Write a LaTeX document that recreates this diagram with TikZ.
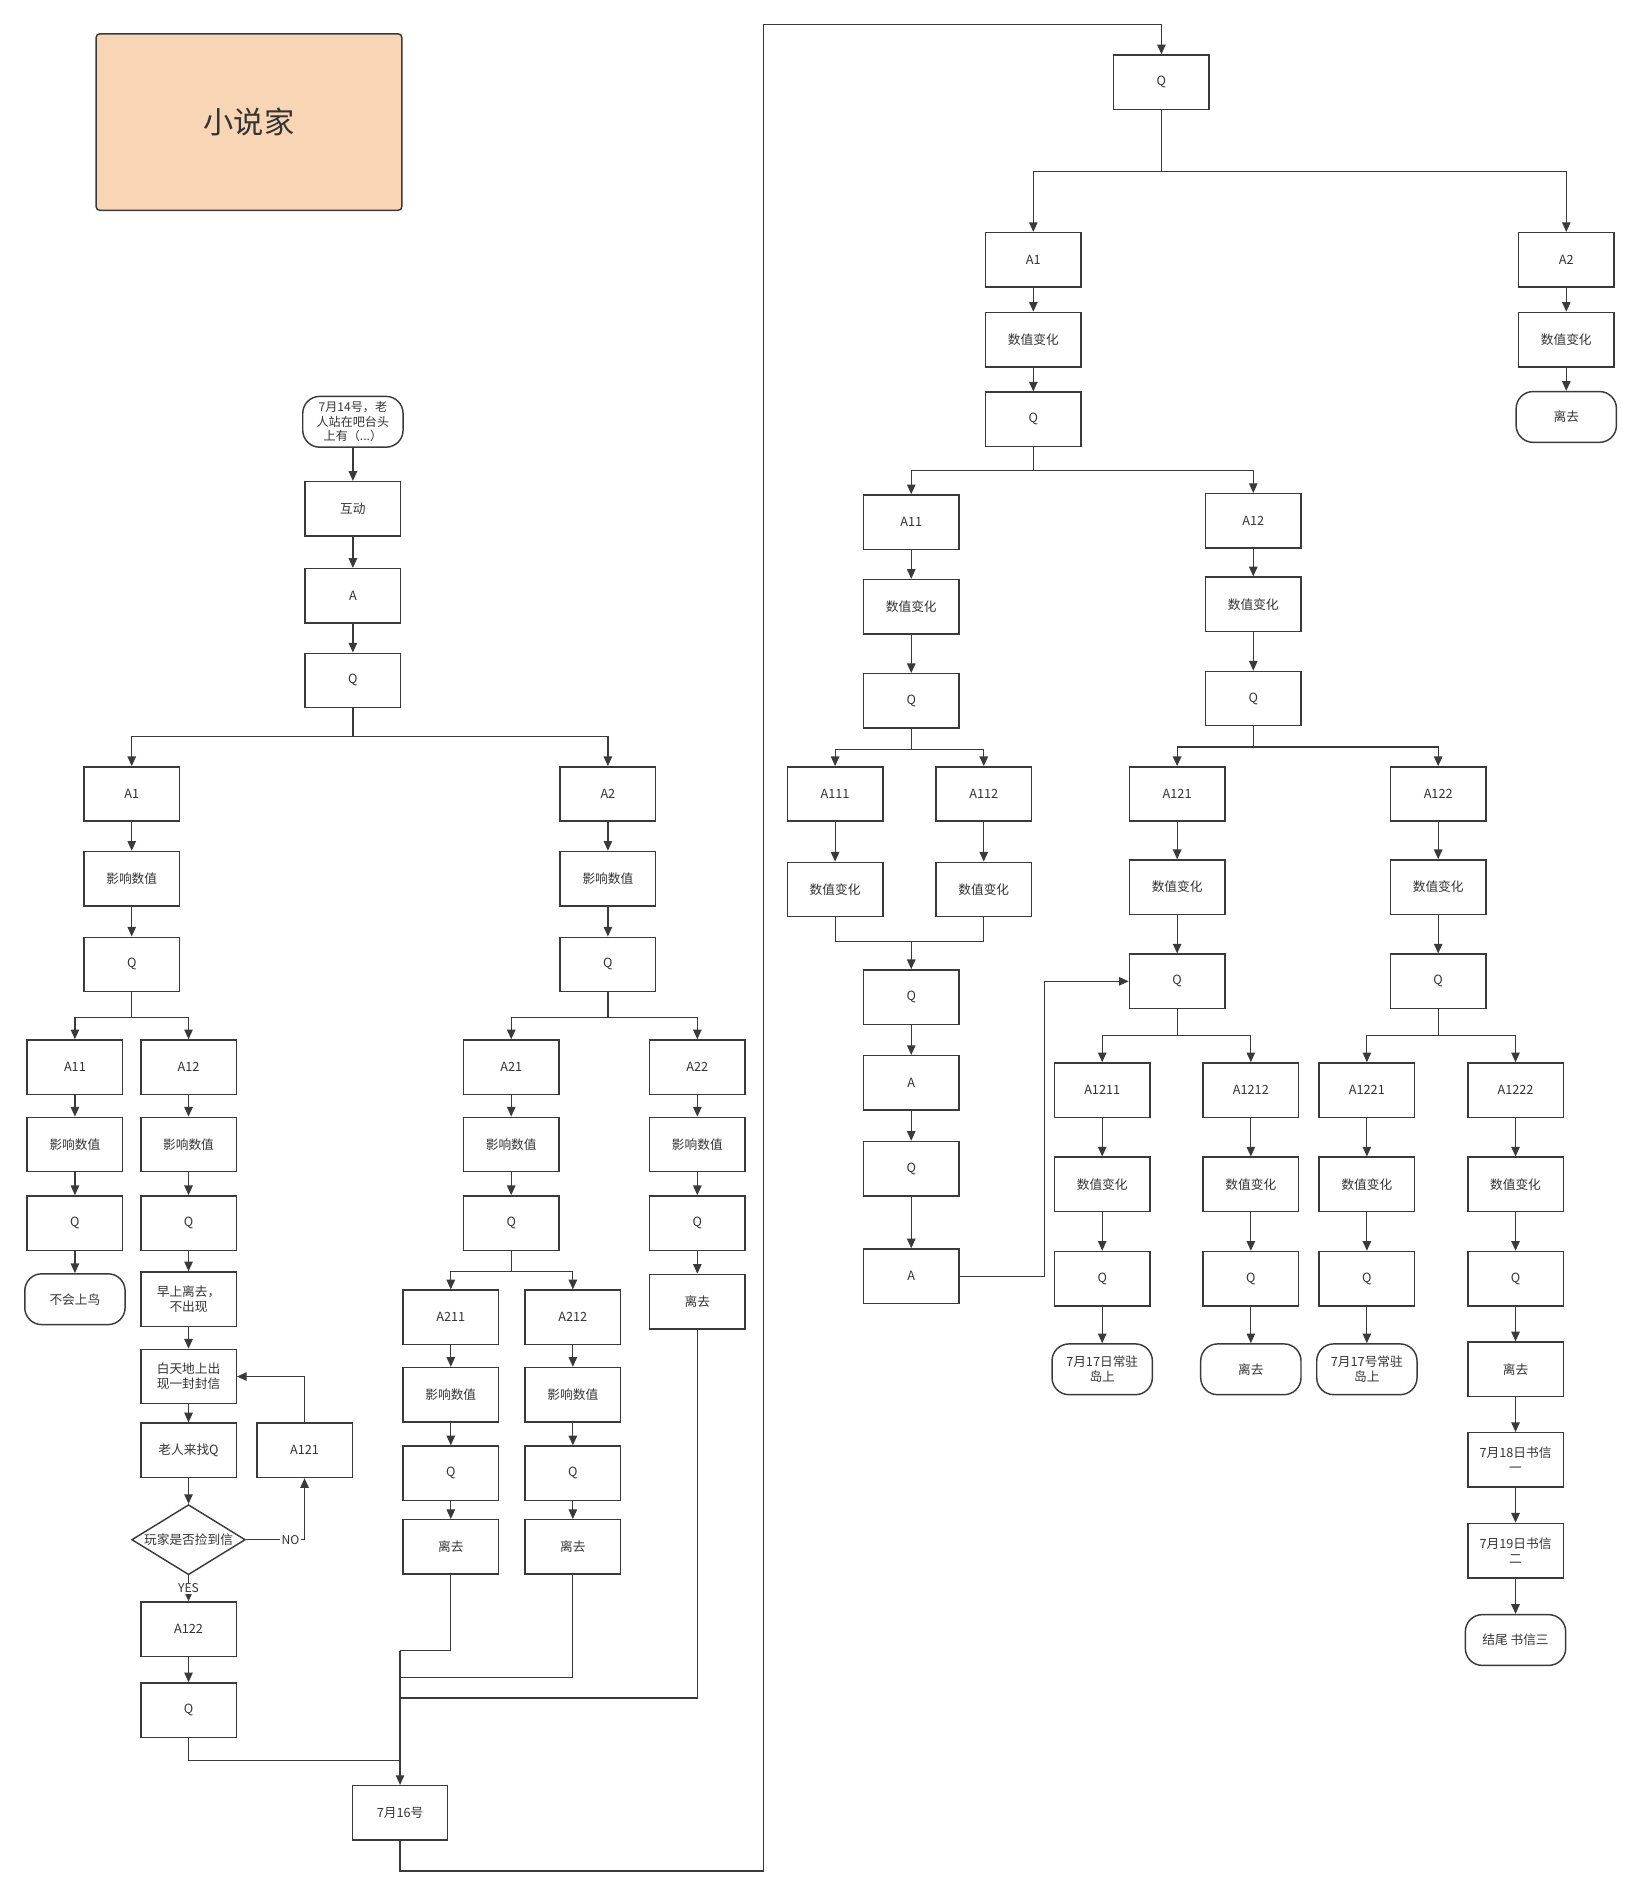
\documentclass[tikz,border=0pt]{standalone}
\usepackage{fontspec}
\setmainfont{Noto Sans CJK SC}
\usetikzlibrary{arrows.meta,shapes.geometric}
\definecolor{linec}{HTML}{3A3A3A}
\definecolor{txtc}{HTML}{333333}
\definecolor{titlefill}{HTML}{F8D5B5}
\tikzset{
  blk/.style={draw=linec, line width=1.2pt, minimum width=79pt, minimum height=45pt, inner sep=1pt, align=center, text=txtc, font=\fontsize{10.5}{12.5}\selectfont},
  term/.style={blk, rounded corners=14pt, minimum width=83pt, minimum height=42pt},
  dia/.style={blk, diamond, minimum width=94pt, minimum height=58pt, inner sep=0pt},
  lab/.style={fill=white, inner sep=1pt, text=txtc, font=\fontsize{10}{12}\selectfont}
}
\begin{document}
\begin{tikzpicture}[x=1pt, y=-1pt, line width=1pt, color=linec, >={Triangle[length=8pt,width=7pt]}]
\useasboundingbox (0,0) rectangle (1357,1568);
\node[draw, fill=titlefill, rounded corners=3pt, line width=1.2pt, minimum width=253pt, minimum height=146pt, text=txtc, font=\fontsize{25}{30}\selectfont] (title) at (206,101) {小说家};
\node[term, font=\fontsize{10}{12}\selectfont] (s) at (292,349) {7月14号，老\\人站在吧台头\\上有（...）};
\node[blk] (hd) at (292,421) {互动};
\node[blk] (a) at (292,493) {A};
\node[blk] (q) at (292,563) {Q};
\node[blk] (a1) at (109,657) {A1};
\node[blk] (a1v) at (109,727) {影响数值};
\node[blk] (a1q) at (109,798) {Q};
\node[blk] (a11) at (62,883) {A11};
\node[blk] (a11v) at (62,947) {影响数值};
\node[blk] (a11q) at (62,1012) {Q};
\node[term] (a11e) at (62,1075) {不会上鸟};
\node[blk] (a12) at (156,883) {A12};
\node[blk] (a12v) at (156,947) {影响数值};
\node[blk] (a12q) at (156,1012) {Q};
\node[blk] (a12m) at (156,1075) {早上离去，\\不出现};
\node[blk] (a12d) at (156,1139) {白天地上出\\现一封封信};
\node[blk] (a12o) at (156,1200) {老人来找Q};
\node[blk] (a121) at (252,1200) {A121};
\node[dia] (chk) at (156,1274) {\makebox[0pt]{玩家是否捡到信}};
\node[blk] (a122) at (156,1348) {A122};
\node[blk] (a122q) at (156,1415) {Q};
\node[blk] (a2) at (503,657) {A2};
\node[blk] (a2v) at (503,727) {影响数值};
\node[blk] (a2q) at (503,798) {Q};
\node[blk] (a21) at (423,883) {A21};
\node[blk] (a21v) at (423,947) {影响数值};
\node[blk] (a21q) at (423,1012) {Q};
\node[blk] (a22) at (577,883) {A22};
\node[blk] (a22v) at (577,947) {影响数值};
\node[blk] (a22q) at (577,1012) {Q};
\node[blk] (a22e) at (577,1077) {离去};
\node[blk] (a211) at (373,1090) {A211};
\node[blk] (a211v) at (373,1154) {影响数值};
\node[blk] (a211q) at (373,1219) {Q};
\node[blk] (a211e) at (373,1280) {离去};
\node[blk] (a212) at (474,1090) {A212};
\node[blk] (a212v) at (474,1154) {影响数值};
\node[blk] (a212q) at (474,1219) {Q};
\node[blk] (a212e) at (474,1280) {离去};
\node[blk] (d16) at (331,1500) {7月16号};
\node[blk] (rq) at (961,68) {Q};
\node[blk] (r1) at (855,215) {A1};
\node[blk] (r1v) at (855,281) {数值变化};
\node[blk] (r1q) at (855,347) {Q};
\node[blk] (r2) at (1296,215) {A2};
\node[blk] (r2v) at (1296,281) {数值变化};
\node[term] (r2e) at (1296,345) {离去};
\node[blk] (r11) at (754,432) {A11};
\node[blk] (r11v) at (754,502) {数值变化};
\node[blk] (r11q) at (754,580) {Q};
\node[blk] (r111) at (691,657) {A111};
\node[blk] (r111v) at (691,736) {数值变化};
\node[blk] (r112) at (814,657) {A112};
\node[blk] (r112v) at (814,736) {数值变化};
\node[blk] (r11q2) at (754,825) {Q};
\node[blk] (r11a) at (754,896) {A};
\node[blk] (r11q3) at (754,967) {Q};
\node[blk] (r11a2) at (754,1056) {A};
\node[blk] (r12) at (1037,431) {A12};
\node[blk] (r12v) at (1037,500) {数值变化};
\node[blk] (r12q) at (1037,578) {Q};
\node[blk] (r121) at (974,657) {A121};
\node[blk] (r121v) at (974,734) {数值变化};
\node[blk] (r121q) at (974,812) {Q};
\node[blk] (r122) at (1190,657) {A122};
\node[blk] (r122v) at (1190,734) {数值变化};
\node[blk] (r122q) at (1190,812) {Q};
\node[blk] (r1211) at (912,902) {A1211};
\node[blk] (r1211v) at (912,980) {数值变化};
\node[blk] (r1211q) at (912,1058) {Q};
\node[term] (r1211e) at (912,1133) {7月17日常驻\\岛上};
\node[blk] (r1212) at (1035,902) {A1212};
\node[blk] (r1212v) at (1035,980) {数值变化};
\node[blk] (r1212q) at (1035,1058) {Q};
\node[term] (r1212e) at (1035,1133) {离去};
\node[blk] (r1221) at (1131,902) {A1221};
\node[blk] (r1221v) at (1131,980) {数值变化};
\node[blk] (r1221q) at (1131,1058) {Q};
\node[term] (r1221e) at (1131,1133) {7月17号常驻\\岛上};
\node[blk] (r1222) at (1254,902) {A1222};
\node[blk] (r1222v) at (1254,980) {数值变化};
\node[blk] (r1222q) at (1254,1058) {Q};
\node[blk] (r1222e) at (1254,1133) {离去};
\node[blk] (r18) at (1254,1208) {7月18日书信\\一};
\node[blk] (r19) at (1254,1283) {7月19日书信\\二};
\node[term] (rend) at (1254,1357) {结尾 书信三};
\coordinate (j1) at (331,1366);
\coordinate (j2) at (331,1388);
\coordinate (j3) at (331,1405);
\coordinate (j4) at (331,1457);
\coordinate (up) at (632,20);
\coordinate (r11m) at (754,779);
\draw [->] (s) -- (hd);
\draw [->] (hd) -- (a);
\draw [->] (a) -- (q);
\draw (q.south) -- ++(0,23) coordinate (qb);
\draw [->] (qb) -| (a1);
\draw [->] (qb) -| (a2);
\draw [->] (a1) -- (a1v);
\draw [->] (a1v) -- (a1q);
\draw (a1q.south) -- ++(0,21) coordinate (a1b);
\draw [->] (a1b) -| (a11);
\draw [->] (a1b) -| (a12);
\draw [->] (a11) -- (a11v);
\draw [->] (a11v) -- (a11q);
\draw [->] (a11q) -- (a11e);
\draw [->] (a12) -- (a12v);
\draw [->] (a12v) -- (a12q);
\draw [->] (a12q) -- (a12m);
\draw [->] (a12m) -- (a12d);
\draw [->] (a12d) -- (a12o);
\draw [->] (a12o) -- (chk);
\draw [->] (chk.east) -| node[lab, pos=0.38] {NO} (a121);
\draw [->] (a121) |- (a12d);
\draw [->] (chk) -- node[lab] {YES} (a122);
\draw [->] (a122) -- (a122q);
\draw (a122q) |- (j4);
\draw [->] (a2) -- (a2v);
\draw [->] (a2v) -- (a2q);
\draw (a2q.south) -- ++(0,21) coordinate (a2b);
\draw [->] (a2b) -| (a21);
\draw [->] (a2b) -| (a22);
\draw [->] (a21) -- (a21v);
\draw [->] (a21v) -- (a21q);
\draw (a21q.south) -- ++(0,17) coordinate (a21b);
\draw [->] (a21b) -| (a211);
\draw [->] (a21b) -| (a212);
\draw [->] (a211) -- (a211v);
\draw [->] (a211v) -- (a211q);
\draw [->] (a211q) -- (a211e);
\draw [->] (a212) -- (a212v);
\draw [->] (a212v) -- (a212q);
\draw [->] (a212q) -- (a212e);
\draw [->] (a22) -- (a22v);
\draw [->] (a22v) -- (a22q);
\draw [->] (a22q) -- (a22e);
\draw (a211e) |- (j1);
\draw (a212e) |- (j2);
\draw (a22e) |- (j3);
\draw [->] (j1) -- (d16);
\draw [->] (d16.south) -- ++(0,25) -| (up) -| (rq);
\draw (rq.south) -- ++(0,51) coordinate (rqb);
\draw [->] (rqb) -| (r1);
\draw [->] (rqb) -| (r2);
\draw [->] (r1) -- (r1v);
\draw [->] (r1v) -- (r1q);
\draw [->] (r2) -- (r2v);
\draw [->] (r2v) -- (r2e);
\draw (r1q.south) -- ++(0,19) coordinate (r1b);
\draw [->] (r1b) -| (r11);
\draw [->] (r1b) -| (r12);
\draw [->] (r11) -- (r11v);
\draw [->] (r11v) -- (r11q);
\draw (r11q.south) -- ++(0,17) coordinate (r11b);
\draw [->] (r11b) -| (r111);
\draw [->] (r11b) -| (r112);
\draw [->] (r111) -- (r111v);
\draw [->] (r112) -- (r112v);
\draw (r111v) |- (r11m) -| (r112v);
\draw [->] (r11m) -- (r11q2);
\draw [->] (r11q2) -- (r11a);
\draw [->] (r11a) -- (r11q3);
\draw [->] (r11q3) -- (r11a2);
\draw [->] (r11a2.east) -- ++(70,0) |- (r121q);
\draw [->] (r12) -- (r12v);
\draw [->] (r12v) -- (r12q);
\draw (r12q.south) -- ++(0,17) coordinate (r12b);
\draw [->] (r12b) -| (r121);
\draw [->] (r12b) -| (r122);
\draw [->] (r121) -- (r121v);
\draw [->] (r121v) -- (r121q);
\draw [->] (r122) -- (r122v);
\draw [->] (r122v) -- (r122q);
\draw (r121q.south) -- ++(0,22) coordinate (r121b);
\draw [->] (r121b) -| (r1211);
\draw [->] (r121b) -| (r1212);
\draw (r122q.south) -- ++(0,22) coordinate (r122b);
\draw [->] (r122b) -| (r1221);
\draw [->] (r122b) -| (r1222);
\draw [->] (r1211) -- (r1211v);
\draw [->] (r1211v) -- (r1211q);
\draw [->] (r1211q) -- (r1211e);
\draw [->] (r1212) -- (r1212v);
\draw [->] (r1212v) -- (r1212q);
\draw [->] (r1212q) -- (r1212e);
\draw [->] (r1221) -- (r1221v);
\draw [->] (r1221v) -- (r1221q);
\draw [->] (r1221q) -- (r1221e);
\draw [->] (r1222) -- (r1222v);
\draw [->] (r1222v) -- (r1222q);
\draw [->] (r1222q) -- (r1222e);
\draw [->] (r1222e) -- (r18);
\draw [->] (r18) -- (r19);
\draw [->] (r19) -- (rend);
\end{tikzpicture}
\end{document}
